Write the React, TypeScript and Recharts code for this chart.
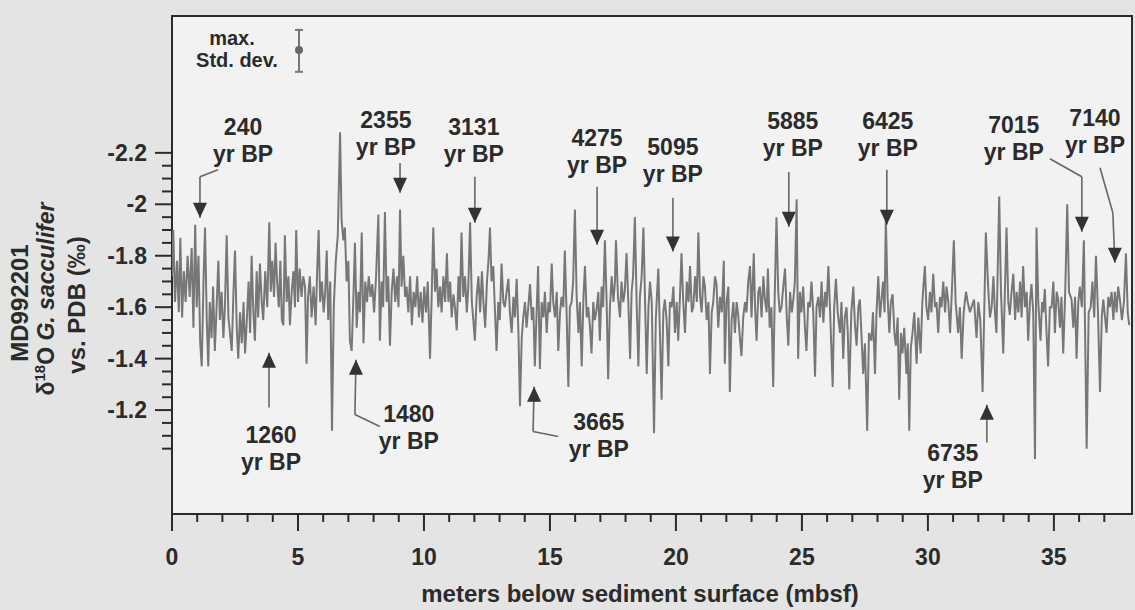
import React from 'react';
import {
  LineChart,
  Line,
  XAxis,
  YAxis,
  CartesianGrid,
  ReferenceArea,
  ReferenceLine,
  ReferenceDot,
  Label,
} from 'recharts';

const FONT = '"Liberation Sans", Arial, Helvetica, sans-serif';
const INK = '#2b2b2b';

// MD992201 d18O (G. sacculifer, permil vs PDB) against depth in mbsf
const sec0to6: [number, number][] = [
  [0.0, -1.72], [0.05, -1.9], [0.12, -1.62], [0.2, -1.78], [0.27, -1.58], [0.33, -1.87], [0.4, -1.56], [0.47, -1.74],
  [0.54, -1.62], [0.62, -1.8], [0.7, -1.64], [0.78, -1.83], [0.85, -1.52], [0.92, -1.92], [0.98, -1.6], [1.05, -1.8],
  [1.12, -1.46], [1.18, -1.37], [1.25, -1.7], [1.31, -1.91], [1.38, -1.55], [1.44, -1.37], [1.5, -1.62], [1.57, -1.48],
  [1.63, -1.68], [1.7, -1.43], [1.77, -1.6], [1.84, -1.78], [1.9, -1.55], [1.97, -1.66], [2.04, -1.48], [2.1, -1.6],
  [2.17, -1.88], [2.24, -1.56], [2.3, -1.5], [2.37, -1.43], [2.44, -1.66], [2.5, -1.82], [2.57, -1.52], [2.63, -1.4],
  [2.7, -1.58], [2.77, -1.46], [2.84, -1.62], [2.9, -1.42], [2.97, -1.55], [3.04, -1.7], [3.1, -1.5], [3.16, -1.8],
  [3.23, -1.58], [3.29, -1.47], [3.36, -1.74], [3.42, -1.56], [3.49, -1.77], [3.56, -1.62], [3.62, -1.55], [3.7, -1.74],
  [3.78, -1.6], [3.86, -1.93], [3.92, -1.66], [3.98, -1.78], [4.05, -1.64], [4.11, -1.85], [4.17, -1.7], [4.24, -1.6],
  [4.3, -1.78], [4.36, -1.55], [4.42, -1.53], [4.48, -1.88], [4.55, -1.62], [4.62, -1.72], [4.68, -1.53], [4.75, -1.66],
  [4.82, -1.74], [4.88, -1.6], [4.93, -1.9], [5.0, -1.62], [5.07, -1.75], [5.14, -1.64], [5.21, -1.72], [5.28, -1.68],
  [5.34, -1.38], [5.4, -1.64], [5.47, -1.72], [5.54, -1.56], [5.62, -1.68], [5.7, -1.53], [5.76, -1.74], [5.82, -1.9],
  [5.88, -1.62], [5.95, -1.7], [6.02, -1.58], [6.08, -1.66], [6.14, -1.82], [6.2, -1.55], [6.28, -1.7],
];

const sec6to13: [number, number][] = [
  [6.35, -1.12], [6.42, -1.6], [6.5, -1.78], [6.58, -1.88], [6.67, -2.28], [6.73, -1.94], [6.8, -1.86], [6.86, -1.91],
  [6.93, -1.7], [7.0, -1.78], [7.06, -1.47], [7.13, -1.43], [7.2, -1.64], [7.26, -1.85], [7.33, -1.52], [7.4, -1.66],
  [7.46, -1.58], [7.53, -1.89], [7.6, -1.46], [7.67, -1.7], [7.74, -1.62], [7.81, -1.72], [7.88, -1.64], [7.95, -1.69],
  [8.02, -1.58], [8.1, -1.72], [8.19, -1.96], [8.25, -1.47], [8.32, -1.7], [8.38, -1.6], [8.45, -1.97], [8.52, -1.62],
  [8.58, -1.72], [8.65, -1.45], [8.72, -1.66], [8.79, -1.75], [8.86, -1.62], [8.93, -1.72], [8.99, -1.6], [9.05, -1.98],
  [9.11, -1.68], [9.18, -1.8], [9.25, -1.64], [9.31, -1.68], [9.38, -1.58], [9.45, -1.72], [9.52, -1.53], [9.59, -1.66],
  [9.66, -1.6], [9.73, -1.72], [9.8, -1.56], [9.87, -1.66], [9.94, -1.54], [10.01, -1.68], [10.08, -1.58], [10.15, -1.7],
  [10.24, -1.4], [10.3, -1.62], [10.37, -1.91], [10.44, -1.66], [10.5, -1.75], [10.57, -1.6], [10.64, -1.68], [10.7, -1.58],
  [10.77, -1.72], [10.84, -1.62], [10.91, -1.81], [10.97, -1.62], [11.04, -1.7], [11.1, -1.56], [11.17, -1.65], [11.23, -1.6],
  [11.3, -1.51], [11.37, -1.72], [11.43, -1.62], [11.49, -1.89], [11.56, -1.64], [11.63, -1.72], [11.7, -1.58], [11.76, -1.68],
  [11.83, -1.93], [11.9, -1.62], [11.96, -1.55], [12.02, -1.47], [12.09, -1.64], [12.16, -1.72], [12.23, -1.58], [12.3, -1.74],
  [12.36, -1.62], [12.43, -1.52], [12.5, -1.7], [12.56, -1.78], [12.62, -1.91],
];

const sec13to19: [number, number][] = [
  [12.68, -1.7], [12.75, -1.76], [12.82, -1.58], [12.88, -1.43], [12.95, -1.62], [13.01, -1.55], [13.08, -1.77], [13.15, -1.62],
  [13.21, -1.6], [13.28, -1.66], [13.35, -1.71], [13.41, -1.58], [13.48, -1.5], [13.55, -1.64], [13.61, -1.56], [13.68, -1.71],
  [13.75, -1.5], [13.81, -1.215], [13.88, -1.48], [13.94, -1.56], [14.01, -1.62], [14.07, -1.52], [14.14, -1.6], [14.21, -1.69],
  [14.28, -1.55], [14.34, -1.6], [14.4, -1.37], [14.47, -1.58], [14.53, -1.76], [14.6, -1.36], [14.67, -1.62], [14.74, -1.56],
  [14.8, -1.66], [14.87, -1.5], [14.94, -1.62], [15.0, -1.58], [15.07, -1.77], [15.13, -1.62], [15.2, -1.56], [15.27, -1.66],
  [15.33, -1.43], [15.4, -1.58], [15.46, -1.64], [15.53, -1.6], [15.59, -1.82], [15.66, -1.58], [15.73, -1.29], [15.79, -1.6],
  [15.86, -1.62], [15.92, -1.7], [15.99, -1.98], [16.06, -1.64], [16.13, -1.5], [16.19, -1.62], [16.26, -1.37], [16.33, -1.64],
  [16.39, -1.76], [16.46, -1.56], [16.52, -1.6], [16.59, -1.52], [16.65, -1.42], [16.72, -1.62], [16.78, -1.55], [16.85, -1.59],
  [16.92, -1.66], [16.98, -1.47], [17.05, -1.68], [17.11, -1.6], [17.18, -1.86], [17.25, -1.62], [17.31, -1.32], [17.38, -1.6],
  [17.45, -1.72], [17.52, -1.62], [17.58, -1.7], [17.62, -1.86], [17.7, -1.64], [17.78, -1.56], [17.84, -1.7], [17.91, -1.62],
  [17.97, -1.66], [18.04, -1.81], [18.11, -1.62], [18.18, -1.4], [18.24, -1.66], [18.3, -1.72], [18.37, -1.95], [18.44, -1.62],
  [18.51, -1.37], [18.57, -1.64], [18.64, -1.72], [18.71, -1.91], [18.78, -1.6], [18.84, -1.34], [18.91, -1.6], [18.97, -1.7],
  [19.04, -1.62],
];

const sec19to25: [number, number][] = [
  [19.13, -1.11], [19.2, -1.55], [19.3, -1.75], [19.36, -1.52], [19.43, -1.24], [19.5, -1.58], [19.56, -1.63], [19.63, -1.55],
  [19.7, -1.37], [19.76, -1.62], [19.83, -1.6], [19.9, -1.68], [19.96, -1.5], [20.03, -1.62], [20.09, -1.47], [20.16, -1.64],
  [20.22, -1.81], [20.29, -1.62], [20.36, -1.5], [20.43, -1.7], [20.5, -1.62], [20.56, -1.76], [20.63, -1.58], [20.69, -1.6],
  [20.76, -1.72], [20.83, -1.62], [20.89, -1.89], [20.96, -1.64], [21.02, -1.58], [21.09, -1.72], [21.15, -1.68], [21.22, -1.55],
  [21.29, -1.62], [21.35, -1.34], [21.42, -1.58], [21.48, -1.62], [21.55, -1.72], [21.61, -1.69], [21.68, -1.52], [21.75, -1.64],
  [21.82, -1.58], [21.9, -1.78], [21.94, -1.38], [22.01, -1.62], [22.08, -1.68], [22.14, -1.27], [22.21, -1.55], [22.28, -1.62],
  [22.34, -1.5], [22.41, -1.62], [22.47, -1.57], [22.54, -1.48], [22.6, -1.41], [22.67, -1.56], [22.74, -1.62], [22.8, -1.58],
  [22.87, -1.7], [22.94, -1.76], [23.0, -1.56], [23.09, -1.81], [23.14, -1.6], [23.2, -1.47], [23.27, -1.66], [23.33, -1.68],
  [23.4, -1.56], [23.47, -1.72], [23.53, -1.63], [23.6, -1.58], [23.65, -1.75], [23.72, -1.52], [23.79, -1.6], [23.86, -1.29],
  [23.92, -1.64], [23.99, -1.95], [24.06, -1.66], [24.12, -1.58], [24.19, -1.6], [24.26, -1.68], [24.33, -1.75], [24.4, -1.56],
  [24.46, -1.45], [24.53, -1.66], [24.6, -1.58], [24.66, -1.63], [24.72, -1.7], [24.79, -2.02], [24.85, -1.4], [24.92, -1.66],
  [24.98, -1.58], [25.05, -1.68], [25.12, -1.52], [25.18, -1.43], [25.25, -1.62], [25.32, -1.6],
];

const sec25to32: [number, number][] = [
  [25.38, -1.7], [25.45, -1.58], [25.52, -1.33], [25.58, -1.6], [25.65, -1.64], [25.72, -1.56], [25.78, -1.7], [25.85, -1.54],
  [25.92, -1.66], [25.98, -1.6], [26.05, -1.76], [26.12, -1.58], [26.22, -1.29], [26.28, -1.6], [26.35, -1.71], [26.42, -1.58],
  [26.51, -1.5], [26.57, -1.62], [26.64, -1.4], [26.7, -1.56], [26.77, -1.6], [26.82, -1.5], [26.88, -1.28], [26.96, -1.58],
  [27.04, -1.68], [27.1, -1.54], [27.17, -1.45], [27.24, -1.6], [27.3, -1.63], [27.36, -1.5], [27.43, -1.34], [27.5, -1.46],
  [27.59, -1.12], [27.66, -1.5], [27.76, -1.47], [27.82, -1.58], [27.9, -1.34], [27.96, -1.58], [28.03, -1.72], [28.1, -1.56],
  [28.16, -1.63], [28.22, -1.7], [28.28, -1.58], [28.33, -1.95], [28.4, -1.64], [28.47, -1.5], [28.53, -1.62], [28.6, -1.65],
  [28.67, -1.5], [28.73, -1.45], [28.8, -1.56], [28.86, -1.24], [28.93, -1.5], [28.99, -1.42], [29.06, -1.52], [29.15, -1.34],
  [29.2, -1.46], [29.26, -1.12], [29.32, -1.44], [29.39, -1.5], [29.46, -1.58], [29.55, -1.38], [29.62, -1.56], [29.71, -1.42],
  [29.78, -1.62], [29.88, -1.76], [29.94, -1.6], [30.01, -1.55], [30.08, -1.66], [30.14, -1.58], [30.21, -1.73], [30.28, -1.6],
  [30.34, -1.62], [30.41, -1.5], [30.48, -1.64], [30.54, -1.6], [30.61, -1.7], [30.68, -1.58], [30.74, -1.68], [30.81, -1.62],
  [30.88, -1.5], [30.95, -1.66], [31.03, -1.86], [31.1, -1.62], [31.2, -1.5], [31.27, -1.6], [31.34, -1.4], [31.42, -1.58],
  [31.51, -1.66], [31.58, -1.62], [31.67, -1.58],
];

const sec32to38: [number, number][] = [
  [31.73, -1.6], [31.83, -1.63], [31.93, -1.48], [32.0, -1.62], [32.08, -1.55], [32.17, -1.27], [32.3, -1.89], [32.39, -1.68],
  [32.46, -1.56], [32.53, -1.6], [32.6, -1.72], [32.66, -1.58], [32.72, -1.5], [32.83, -2.03], [32.9, -1.66], [32.99, -1.42],
  [33.05, -1.64], [33.12, -1.91], [33.19, -1.62], [33.25, -1.57], [33.32, -1.66], [33.39, -1.73], [33.46, -1.55], [33.52, -1.66],
  [33.59, -1.58], [33.66, -1.7], [33.72, -1.56], [33.78, -1.76], [33.85, -1.6], [33.92, -1.66], [33.98, -1.47], [34.05, -1.62],
  [34.11, -1.69], [34.18, -1.58], [34.25, -1.01], [34.31, -1.91], [34.38, -1.62], [34.47, -1.47], [34.53, -1.62], [34.58, -1.58],
  [34.64, -1.67], [34.7, -1.52], [34.77, -1.37], [34.84, -1.6], [34.91, -1.6], [34.98, -1.7], [35.04, -1.5], [35.11, -1.66],
  [35.17, -1.63], [35.24, -1.52], [35.3, -1.64], [35.37, -1.42], [35.45, -1.66], [35.53, -2.0], [35.6, -1.66], [35.7, -1.63],
  [35.77, -1.52], [35.84, -1.64], [35.9, -1.4], [35.97, -1.62], [36.03, -1.68], [36.11, -1.6], [36.19, -1.86], [36.3, -1.05],
  [36.38, -1.58], [36.46, -1.6], [36.53, -1.7], [36.6, -1.56], [36.67, -1.8], [36.75, -1.58], [36.83, -1.27], [36.9, -1.56],
  [36.96, -1.63], [37.03, -1.56], [37.09, -1.5], [37.16, -1.64], [37.22, -1.6], [37.29, -1.66], [37.36, -1.55], [37.42, -1.66],
  [37.49, -1.58], [37.55, -1.68], [37.62, -1.63], [37.7, -1.55], [37.78, -1.62], [37.86, -1.81], [37.93, -1.58], [37.99, -1.53],
];

const depthTicks = [0, 1, 2, 3, 4, 5, 6, 7, 8, 9, 10, 11, 12, 13, 14, 15, 16, 17, 18, 19, 20, 21, 22, 23, 24, 25, 26, 27, 28, 29, 30, 31, 32, 33, 34, 35, 36, 37];
const depthLabels = [0, 5, 10, 15, 20, 25, 30, 35];
const isoTicks = [-2.2, -2.15, -2.1, -2.05, -2, -1.95, -1.9, -1.85, -1.8, -1.75, -1.7, -1.65, -1.6, -1.55, -1.5, -1.45, -1.4, -1.35, -1.3, -1.25, -1.2, -1.15, -1.1, -1.05];
const isoLabels = [-2.2, -2, -1.8, -1.6, -1.4, -1.2];

// age tie points: label anchor and arrow path (depth, d18O), last point is the arrow tip
const ageLabels = [
  { age: '240', at: [2.82, -2.25] },
  { age: '2355', at: [8.49, -2.278] },
  { age: '3131', at: [11.98, -2.25] },
  { age: '4275', at: [16.87, -2.208] },
  { age: '5095', at: [19.88, -2.173] },
  { age: '5885', at: [24.64, -2.274] },
  { age: '6425', at: [28.41, -2.274] },
  { age: '7015', at: [33.41, -2.258] },
  { age: '7140', at: [36.63, -2.285] },
  { age: '1260', at: [3.93, -1.054] },
  { age: '1480', at: [9.4, -1.136] },
  { age: '3665', at: [16.94, -1.105] },
  { age: '6735', at: [30.99, -0.984] },
];

const ageArrows = [
  { age: '240', down: true, path: [[1.83, -2.134], [1.11, -2.107], [1.11, -1.948]] },
  { age: '2355', down: true, path: [[9.05, -2.161], [9.05, -2.045]] },
  { age: '3131', down: true, path: [[12.02, -2.107], [12.02, -1.928]] },
  { age: '4275', down: true, path: [[16.87, -2.068], [16.87, -1.843]] },
  { age: '5095', down: true, path: [[19.88, -2.025], [19.88, -1.816]] },
  { age: '5885', down: true, path: [[24.48, -2.126], [24.48, -1.913]] },
  { age: '6425', down: true, path: [[28.37, -2.134], [28.37, -1.92]] },
  { age: '7015', down: true, path: [[34.84, -2.177], [36.11, -2.107], [36.11, -1.893]] },
  { age: '7140', down: true, path: [[36.83, -2.142], [37.34, -1.967], [37.42, -1.773]] },
  { age: '1260', down: false, path: [[3.85, -1.21], [3.85, -1.423]] },
  { age: '1480', down: false, path: [[8.25, -1.136], [7.26, -1.183], [7.3, -1.396]] },
  { age: '3665', down: false, path: [[15.32, -1.097], [14.33, -1.117], [14.37, -1.291]] },
  { age: '6735', down: false, path: [[32.34, -1.074], [32.34, -1.221]] },
];

// max. std. dev. marker in the upper left corner
const stdDev = { depth: 5.04, mean: -2.6, low: -2.678, high: -2.515 };
const stdDevText = [
  { text: 'max.', at: [2.38, -2.645] },
  { text: 'Std. dev.', at: [2.58, -2.56] },
];

const yDomain: [number, number] = [-2.732, -0.796];
const xDomain: [number, number] = [0, 38.1];

const series = [...sec0to6, ...sec6to13, ...sec13to19, ...sec19to25, ...sec25to32, ...sec32to38].map(([depth, v]) => ({ depth, v }));

function DepthTick(props: any) {
  const { x, y, payload } = props;
  const major = depthLabels.includes(payload.value);
  return (
    <g>
      <line x1={x} x2={x} y1={y} y2={y + (major ? 17 : 8)} stroke={INK} strokeWidth={2} />
      {major && (
        <text x={x} y={y + 51} textAnchor="middle" fontFamily={FONT} fontWeight="bold" fontSize={23} fill={INK}>
          {payload.value}
        </text>
      )}
    </g>
  );
}

function IsoTick(props: any) {
  const { x, y, payload } = props;
  const major = isoLabels.some((t) => Math.abs(t - payload.value) < 1e-6);
  return (
    <g>
      <line x1={x - (major ? 17 : 10)} x2={x} y1={y} y2={y} stroke={INK} strokeWidth={2} />
      {major && (
        <text x={x - 25} y={y + 8} textAnchor="end" fontFamily={FONT} fontWeight="bold" fontSize={23} fill={INK}>
          {String(payload.value)}
        </text>
      )}
    </g>
  );
}

function XTitle(props: any) {
  const vb = props.viewBox || { x: 172, y: 514, width: 960, height: 96 };
  return (
    <text x={vb.x + vb.width / 2 - 12} y={vb.y + 88} textAnchor="middle" fontFamily={FONT} fontWeight="bold" fontSize={24} fill={INK}>
      meters below sediment surface (mbsf)
    </text>
  );
}

function YTitle(props: any) {
  const vb = props.viewBox || { x: 0, y: 16, width: 172, height: 498 };
  const rows = [
    { x: vb.x + 20, y: vb.y + 287 },
    { x: vb.x + 46, y: vb.y + 283 },
    { x: vb.x + 77, y: vb.y + 289 },
  ];
  const common = { textAnchor: 'middle' as const, fontFamily: FONT, fontWeight: 'bold', fill: INK };
  return (
    <g>
      <text {...common} fontSize={24} x={rows[0].x} y={rows[0].y + 8} transform={`rotate(-90 ${rows[0].x} ${rows[0].y})`}>
        MD992201
      </text>
      <text {...common} fontSize={23} x={rows[1].x} y={rows[1].y + 8} transform={`rotate(-90 ${rows[1].x} ${rows[1].y})`}>
        <tspan>δ</tspan>
        <tspan fontSize={15} dy={-9}>18</tspan>
        <tspan dy={9}>O </tspan>
        <tspan fontStyle="italic">G. sacculifer</tspan>
      </text>
      <text {...common} fontSize={24} x={rows[2].x} y={rows[2].y + 8} transform={`rotate(-90 ${rows[2].x} ${rows[2].y})`}>
        vs. PDB (‰)
      </text>
    </g>
  );
}

const ageText = (age: string) => (p: any) => (
  <g>
    <text x={p.cx} y={p.cy - 5} textAnchor="middle" fontFamily={FONT} fontWeight="bold" fontSize={23} fill={INK}>
      {age}
    </text>
    <text x={p.cx} y={p.cy + 22} textAnchor="middle" fontFamily={FONT} fontWeight="bold" fontSize={23} fill={INK}>
      yr BP
    </text>
  </g>
);

const arrowHead = (down: boolean) => (p: any) => {
  const s = down ? -1 : 1;
  return <path d={`M${p.cx - 7},${p.cy + s * 15} L${p.cx + 7},${p.cy + s * 15} L${p.cx},${p.cy} Z`} fill="#333" />;
};

const plainText = (text: string) => (p: any) => (
  <text x={p.cx} y={p.cy + 7} textAnchor="middle" fontFamily={FONT} fontWeight="bold" fontSize={20} fill={INK}>
    {text}
  </text>
);

export default function App() {
  return (
    <div style={{ position: 'relative', width: 1135, height: 610, background: '#e4e4e4' }}>
      <style>{'body{margin:0;background:#e4e4e4}'}</style>
      <LineChart width={1135} height={610} data={series} margin={{ top: 16, right: 3, bottom: 0, left: 0 }}>
        <CartesianGrid horizontal={false} vertical={false} fill="#f2f2f2" />
        <XAxis
          type="number"
          dataKey="depth"
          domain={xDomain}
          ticks={depthTicks}
          interval={0}
          height={96}
          tickSize={0}
          tickMargin={0}
          tickLine={false}
          axisLine={false}
          allowDataOverflow
          tick={<DepthTick />}
        >
          <Label content={<XTitle />} />
        </XAxis>
        <YAxis
          type="number"
          domain={yDomain}
          reversed
          ticks={isoTicks}
          interval={0}
          width={172}
          tickSize={0}
          tickMargin={0}
          tickLine={false}
          axisLine={false}
          allowDataOverflow
          tick={<IsoTick />}
        >
          <Label content={<YTitle />} />
        </YAxis>
        <Line
          type="linear"
          dataKey="v"
          stroke="#777"
          strokeWidth={2}
          dot={false}
          activeDot={false}
          isAnimationActive={false}
        />
        <ReferenceArea x1={xDomain[0]} x2={xDomain[1]} y1={yDomain[0]} y2={yDomain[1]} fill="none" stroke={INK} strokeWidth={2} />
        {ageArrows.flatMap((a) =>
          a.path.slice(1).map((pt, i) => (
            <ReferenceLine
              key={`${a.age}-${i}`}
              segment={[{ x: a.path[i][0], y: a.path[i][1] }, { x: pt[0], y: pt[1] }]}
              stroke="#666"
              strokeWidth={1.6}
            />
          )),
        )}
        {ageArrows.map((a) => {
          const tip = a.path[a.path.length - 1];
          return <ReferenceDot key={`tip-${a.age}`} x={tip[0]} y={tip[1]} r={7} shape={arrowHead(a.down)} />;
        })}
        {ageLabels.map((l) => (
          <ReferenceDot key={`lbl-${l.age}`} x={l.at[0]} y={l.at[1]} r={1} shape={ageText(l.age)} />
        ))}
        <ReferenceLine segment={[{ x: stdDev.depth, y: stdDev.high }, { x: stdDev.depth, y: stdDev.low }]} stroke="#777" strokeWidth={2} />
        <ReferenceLine segment={[{ x: stdDev.depth - 0.16, y: stdDev.high }, { x: stdDev.depth + 0.16, y: stdDev.high }]} stroke="#777" strokeWidth={2} />
        <ReferenceLine segment={[{ x: stdDev.depth - 0.16, y: stdDev.low }, { x: stdDev.depth + 0.16, y: stdDev.low }]} stroke="#777" strokeWidth={2} />
        <ReferenceDot x={stdDev.depth} y={stdDev.mean} r={4} fill="#666" stroke="none" />
        {stdDevText.map((t) => (
          <ReferenceDot key={t.text} x={t.at[0]} y={t.at[1]} r={1} shape={plainText(t.text)} />
        ))}
      </LineChart>
    </div>
  );
}
